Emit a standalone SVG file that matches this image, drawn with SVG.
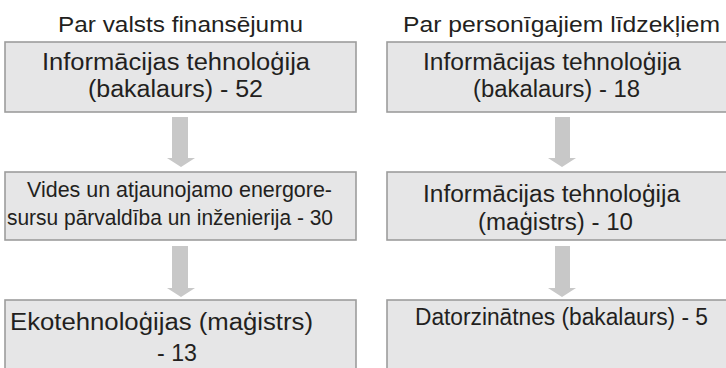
<svg xmlns="http://www.w3.org/2000/svg" width="726" height="368" viewBox="0 0 726 368">
<defs>
<style>
.box{fill:#e6e6e7;stroke:#9d9d9d;stroke-width:1.6}
.arr{fill:#c8c8c8}
text{font-family:"Liberation Sans","Open Sans",sans-serif;fill:#231f20}
.t{font-size:23px}
.h{font-size:22px}
.c{font-size:22px}
</style>
</defs>
<rect width="726" height="368" fill="#ffffff"/>
<g id="header-left"><text class="h" x="58" y="32" textLength="245" lengthAdjust="spacingAndGlyphs">Par valsts finansējumu</text></g>
<g id="header-right"><text class="h" x="403" y="32" textLength="317" lengthAdjust="spacingAndGlyphs">Par personīgajiem līdzekļiem</text></g>
<g id="connectors">
<path class="arr" d="M172 117H188V158H195L181 167L167 158H172Z"/>
<path class="arr" d="M172 246H188V288H195L181 297L167 288H172Z"/>
<path class="arr" d="M555 117H570V158H576L562 167L548 158H555Z"/>
<path class="arr" d="M555 246H570V288H576L562 297L548 288H555Z"/>
</g>
<g id="node-l1">
<rect class="box" x="5" y="42" width="351" height="70"/>
<text class="t" x="42" y="70" textLength="268" lengthAdjust="spacingAndGlyphs">Informācijas tehnoloģija</text>
<text class="t" x="88" y="97" textLength="175" lengthAdjust="spacingAndGlyphs">(bakalaurs)  - 52</text>
</g>
<g id="node-l2">
<rect class="box" x="5" y="172" width="351" height="68"/>
<text class="c" x="27" y="197" textLength="305" lengthAdjust="spacingAndGlyphs">Vides un atjaunojamo energore-</text>
<text class="c" x="7" y="225" textLength="326" lengthAdjust="spacingAndGlyphs">sursu pārvaldība un inženierija - 30</text>
</g>
<g id="node-l3">
<rect class="box" x="5" y="300" width="351" height="70"/>
<text class="t" x="10" y="330" textLength="303" lengthAdjust="spacingAndGlyphs">Ekotehnoloģijas (maģistrs)</text>
<text class="t" x="157" y="361" textLength="40" lengthAdjust="spacingAndGlyphs">- 13</text>
</g>
<g id="node-r1">
<rect class="box" x="387" y="42" width="341" height="70"/>
<text class="t" x="423" y="70" textLength="258" lengthAdjust="spacingAndGlyphs">Informācijas tehnoloģija</text>
<text class="t" x="473" y="97" textLength="167" lengthAdjust="spacingAndGlyphs">(bakalaurs) - 18</text>
</g>
<g id="node-r2">
<rect class="box" x="387" y="172" width="341" height="68"/>
<text class="t" x="423" y="202" textLength="257" lengthAdjust="spacingAndGlyphs">Informācijas tehnoloģija</text>
<text class="t" x="478" y="230" textLength="155" lengthAdjust="spacingAndGlyphs">(maģistrs) - 10</text>
</g>
<g id="node-r3">
<rect class="box" x="387" y="300" width="341" height="70"/>
<text class="t" x="415" y="325" textLength="293" lengthAdjust="spacingAndGlyphs">Datorzinātnes (bakalaurs) - 5</text>
</g>
</svg>
